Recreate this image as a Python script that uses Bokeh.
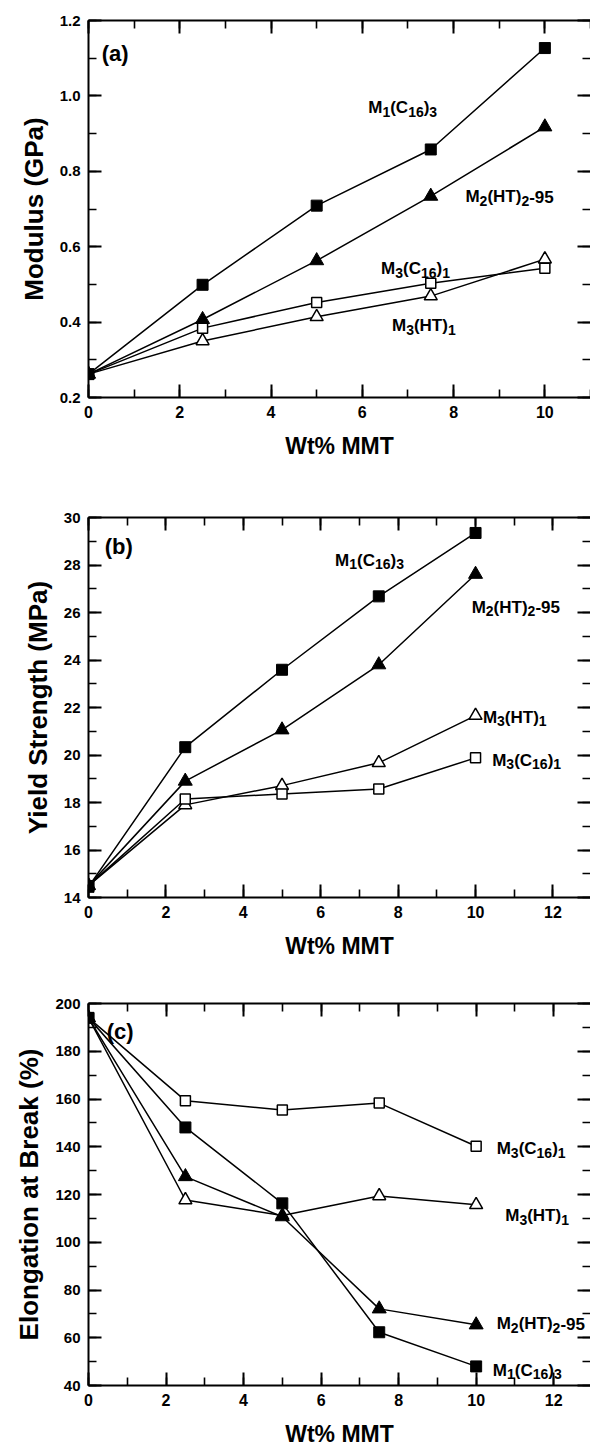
from bokeh.plotting import figure
from bokeh.models import (Range1d, LinearAxis, SingleIntervalTicker, PrintfTickFormatter,
                          ColumnDataSource)
from bokeh.layouts import column
from bokeh.embed import file_html
from bokeh.resources import INLINE
from bokeh.core.properties import value, field

# ---------------- data ----------------
wt = [0, 2.5, 5, 7.5, 10]

# (a) Modulus (GPa)
mod_m1_c16_3 = [0.262, 0.499, 0.709, 0.858, 1.127]
mod_m2_ht2_95 = [0.262, 0.407, 0.563, 0.734, 0.918]
mod_m3_c16_1 = [0.262, 0.384, 0.452, 0.503, 0.543]
mod_m3_ht_1 = [0.262, 0.350, 0.414, 0.469, 0.567]

# (b) Yield strength (MPa)
ys_m1_c16_3 = [14.45, 20.33, 23.59, 26.68, 29.35]
ys_m2_ht2_95 = [14.5, 18.9, 21.06, 23.8, 27.61]
ys_m3_c16_1 = [14.5, 18.15, 18.36, 18.57, 19.88]
ys_m3_ht_1 = [14.5, 17.9, 18.71, 19.67, 21.66]

# (c) Elongation at break (%)
el_m1_c16_3 = [194.0, 148.1, 116.3, 62.3, 48.0]
el_m2_ht2_95 = [194.0, 127.5, 110.7, 72.1, 65.4]
el_m3_c16_1 = [194.0, 159.3, 155.4, 158.3, 140.2]
el_m3_ht_1 = [194.0, 117.7, 111.2, 119.4, 115.7]

x_title = "Wt% MMT"
y_titles = ["Modulus (GPa)", "Yield Strength (MPa)", "Elongation at Break (%)"]
panel_tags = ["(a)", "(b)", "(c)"]

# label pieces: (text, is_subscript)
LBL_M1 = [("M", 0), ("1", 1), ("(C", 0), ("16", 1), (")", 0), ("3", 1)]
LBL_M2 = [("M", 0), ("2", 1), ("(HT)", 0), ("2", 1), ("-95", 0)]
LBL_M3C = [("M", 0), ("3", 1), ("(C", 0), ("16", 1), (")", 0), ("1", 1)]
LBL_M3H = [("M", 0), ("3", 1), ("(HT)", 0), ("1", 1)]

FONT = "Liberation Sans"
WID = {"M": 0.833, "(": 0.333, ")": 0.333, "C": 0.722, "H": 0.722, "T": 0.611, "-": 0.333}
for d in "0123456789":
    WID[d] = 0.556


def add_series_label(p, x, y, segs, main=17, sub=14, drop=4):
    xs, ys, txt, xo, yo, fs = [], [], [], [], [], []
    off = 0.0
    for s, is_sub in segs:
        size = sub if is_sub else main
        xs.append(x); ys.append(y); txt.append(s)
        xo.append(off); yo.append(drop if is_sub else 0); fs.append(f"{size}px")
        off += sum(WID[c] for c in s) * size
    src = ColumnDataSource(dict(x=xs, y=ys, t=txt, xo=xo, yo=yo, fs=fs))
    p.text(x="x", y="y", text="t", x_offset="xo", y_offset="yo",
           text_font_size=field("fs"), text_font=value(FONT), text_font_style="bold",
           text_align="left", text_baseline="alphabetic", text_color="black", source=src)


def make_fig(height, left, top, bottom, xend, ylo, yhi, yint, ytitle, yfmt):
    p = figure(width=590, height=height, x_range=Range1d(0, xend), y_range=Range1d(ylo, yhi),
               output_backend="svg", toolbar_location=None,
               min_border_left=left, min_border_right=0, min_border_top=top,
               min_border_bottom=bottom, x_axis_label=x_title, y_axis_label=ytitle)
    p.grid.visible = False
    p.outline_line_color = None
    p.background_fill_color = "white"
    p.border_fill_color = "white"

    xt = SingleIntervalTicker(interval=2, num_minor_ticks=2)
    yt = SingleIntervalTicker(interval=yint, num_minor_ticks=2)
    p.xaxis[0].ticker = xt
    p.yaxis[0].ticker = yt
    if yfmt:
        p.yaxis[0].formatter = PrintfTickFormatter(format=yfmt)

    def style(ax, labels=True, line=True):
        ax.axis_line_width = 2
        ax.axis_line_color = "black" if line else None
        ax.major_tick_in = 13
        ax.major_tick_out = 0
        ax.minor_tick_in = 8
        ax.minor_tick_out = 0
        ax.major_tick_line_width = 2
        ax.minor_tick_line_width = 1.6
        ax.major_tick_line_color = "black"
        ax.minor_tick_line_color = "black"
        ax.major_label_text_color = "black"
        ax.axis_label_text_color = "black"
        if not labels:
            ax.major_label_text_color = None
            ax.major_label_text_font_size = "1px"
            ax.major_label_standoff = 0

    bx = p.xaxis[0]
    style(bx)
    bx.major_label_text_font = FONT
    bx.major_label_text_font_style = "bold"
    bx.major_label_text_font_size = "16px"
    bx.major_label_standoff = 8
    bx.axis_label_text_font = FONT
    bx.axis_label_text_font_style = "bold"
    bx.axis_label_text_font_size = "23px"
    bx.axis_label_standoff = 12

    ly = p.yaxis[0]
    style(ly)
    ly.major_label_text_font = FONT
    ly.major_label_text_font_style = "bold"
    ly.major_label_text_font_size = "15px"
    ly.major_label_standoff = 8
    ly.axis_label_text_font = FONT
    ly.axis_label_text_font_style = "bold"
    ly.axis_label_text_font_size = "26px"
    ly.axis_label_standoff = 8

    top_ax = LinearAxis(ticker=xt)
    style(top_ax, labels=False)
    p.add_layout(top_ax, "above")
    right_ax = LinearAxis(ticker=yt)
    style(right_ax, labels=False, line=False)
    p.add_layout(right_ax, "right")
    return p


def draw(p, s_m1, s_m2, s_m3c, s_m3h):
    for s in (s_m1, s_m2, s_m3c, s_m3h):
        p.line(wt, s, line_color="black", line_width=1.5)
    p.scatter(wt, s_m3h, marker="triangle", size=13, fill_color="white",
              line_color="black", line_width=1.5)
    p.scatter(wt, s_m3c, marker="square", size=10, fill_color="white",
              line_color="black", line_width=1.5)
    p.scatter(wt, s_m2, marker="triangle", size=14, fill_color="black",
              line_color="black", line_width=1)
    p.scatter(wt, s_m1, marker="square", size=11, fill_color="black",
              line_color="black", line_width=1)


def tag(p, x, y, t):
    p.text(x=[x], y=[y], text=[t], text_font=value(FONT), text_font_style="bold",
           text_font_size="22px", text_align="left", text_baseline="alphabetic",
           text_color="black")


# ---------------- panel (a) ----------------
pa = make_fig(480, 88, 20, 83, 11.0, 0.2, 1.2001, 0.2, y_titles[0], "%.1f")
draw(pa, mod_m1_c16_3, mod_m2_ht2_95, mod_m3_c16_1, mod_m3_ht_1)
tag(pa, 0.29, 1.112, panel_tags[0])
add_series_label(pa, 6.13, 0.969, LBL_M1)
add_series_label(pa, 8.26, 0.733, LBL_M2)
add_series_label(pa, 6.41, 0.542, LBL_M3C)
add_series_label(pa, 6.65, 0.390, LBL_M3H)

# ---------------- panel (b) ----------------
pb = make_fig(485, 85, 37, 68, 12.97, 14, 30.001, 2, y_titles[1], None)
draw(pb, ys_m1_c16_3, ys_m2_ht2_95, ys_m3_c16_1, ys_m3_ht_1)
tag(pb, 0.42, 28.8, panel_tags[1])
add_series_label(pb, 6.37, 28.2, LBL_M1)
add_series_label(pb, 9.9, 26.23, LBL_M2)
add_series_label(pb, 10.19, 21.59, LBL_M3H)
add_series_label(pb, 10.43, 19.77, LBL_M3C)

# ---------------- panel (c) ----------------
pc = make_fig(485, 83, 38, 65, 12.95, 40, 200.01, 20, y_titles[2], None)
draw(pc, el_m1_c16_3, el_m2_ht2_95, el_m3_c16_1, el_m3_ht_1)
tag(pc, 0.47, 188.3, panel_tags[2])
add_series_label(pc, 10.53, 139.2, LBL_M3C)
add_series_label(pc, 10.75, 111.1, LBL_M3H)
add_series_label(pc, 10.53, 65.9, LBL_M2)
add_series_label(pc, 10.43, 46.3, LBL_M1)

layout = column(pa, pb, pc, spacing=0)
open("out.html", "w").write(file_html(layout, INLINE))
